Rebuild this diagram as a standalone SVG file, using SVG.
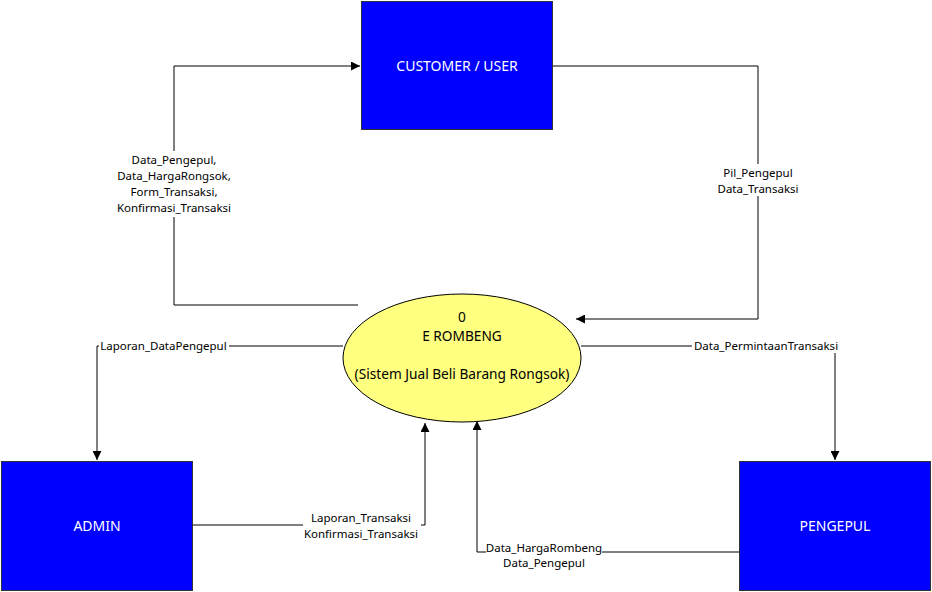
<svg xmlns="http://www.w3.org/2000/svg" width="932" height="592" viewBox="0 0 932 592">
<defs>
<style>
.box{fill:#0000FF;stroke:#333;stroke-width:1}
.bt{fill:#fff;font-family:"Noto Sans","Open Sans",sans-serif;font-size:14px;text-anchor:middle}
.et{fill:#000;font-family:"Noto Sans","Open Sans",sans-serif;font-size:13.7px;text-anchor:middle}
.ln{fill:none;stroke:#000;stroke-width:1}
.lb{fill:#000;font-family:"Noto Sans","Open Sans",sans-serif;font-size:11.5px;text-anchor:middle}
.bg{fill:#fff}
</style>
<marker id="ah" viewBox="0 0 10 10" refX="10" refY="5" markerWidth="9" markerHeight="9" markerUnits="userSpaceOnUse" orient="auto">
<path d="M0,0 L10,5 L0,10 z" fill="#000"/>
</marker>
</defs>
<rect width="932" height="592" fill="#fff"/>
<g id="connectors">
<path class="ln" d="M358,305 H174 V66 H360" marker-end="url(#ah)"/>
<path class="ln" d="M552,66 H758 V319 H576" marker-end="url(#ah)"/>
<path class="ln" d="M343,346 H97 V460" marker-end="url(#ah)"/>
<path class="ln" d="M581,346 H835 V460" marker-end="url(#ah)"/>
<path class="ln" d="M192,525 H425 V423" marker-end="url(#ah)"/>
<path class="ln" d="M739,552 H477 V421" marker-end="url(#ah)"/>
<g id="label1">
<rect class="bg" x="112" y="151" width="124" height="66"/>
<text class="lb" x="174" y="164">Data_Pengepul,</text>
<text class="lb" x="174" y="180">Data_HargaRongsok,</text>
<text class="lb" x="174" y="196">Form_Transaksi,</text>
<text class="lb" x="174" y="212">Konfirmasi_Transaksi</text>
</g>
<g id="label2">
<rect class="bg" x="712" y="164" width="92" height="32"/>
<text class="lb" x="758" y="177">Pil_Pengepul</text>
<text class="lb" x="758" y="193">Data_Transaksi</text>
</g>
<g id="label3">
<rect class="bg" x="99" y="339" width="130" height="14"/>
<text class="lb" x="163.5" y="350">Laporan_DataPengepul</text>
</g>
<g id="label4">
<rect class="bg" x="692" y="339" width="148" height="14"/>
<text class="lb" x="766" y="350">Data_PermintaanTransaksi</text>
</g>
<g id="label5">
<rect class="bg" x="303" y="510" width="118" height="32"/>
<text class="lb" x="361" y="522">Laporan_Transaksi</text>
<text class="lb" x="361" y="538">Konfirmasi_Transaksi</text>
</g>
<g id="label6">
<rect class="bg" x="486" y="542" width="116" height="30"/>
<text class="lb" x="544" y="552">Data_HargaRombeng</text>
<text class="lb" x="544" y="567">Data_Pengepul</text>
</g>
</g>
<g id="customer">
<rect class="box" x="361.5" y="1.5" width="191" height="128"/>
<text class="bt" x="457" y="71">CUSTOMER / USER</text>
</g>
<g id="admin">
<rect class="box" x="1.5" y="461.5" width="191" height="129"/>
<text class="bt" x="97" y="531">ADMIN</text>
</g>
<g id="pengepul">
<rect class="box" x="739.5" y="461.5" width="191" height="129"/>
<text class="bt" x="835" y="531">PENGEPUL</text>
</g>
<g id="process">
<ellipse cx="462" cy="358" rx="119" ry="64" fill="#FFFF80" stroke="#000" stroke-width="1"/>
<text class="et" x="462" y="322">0</text>
<text class="et" x="462" y="341">E ROMBENG</text>
<text class="et" x="462" y="379">(Sistem Jual Beli Barang Rongsok)</text>
</g>
</svg>
